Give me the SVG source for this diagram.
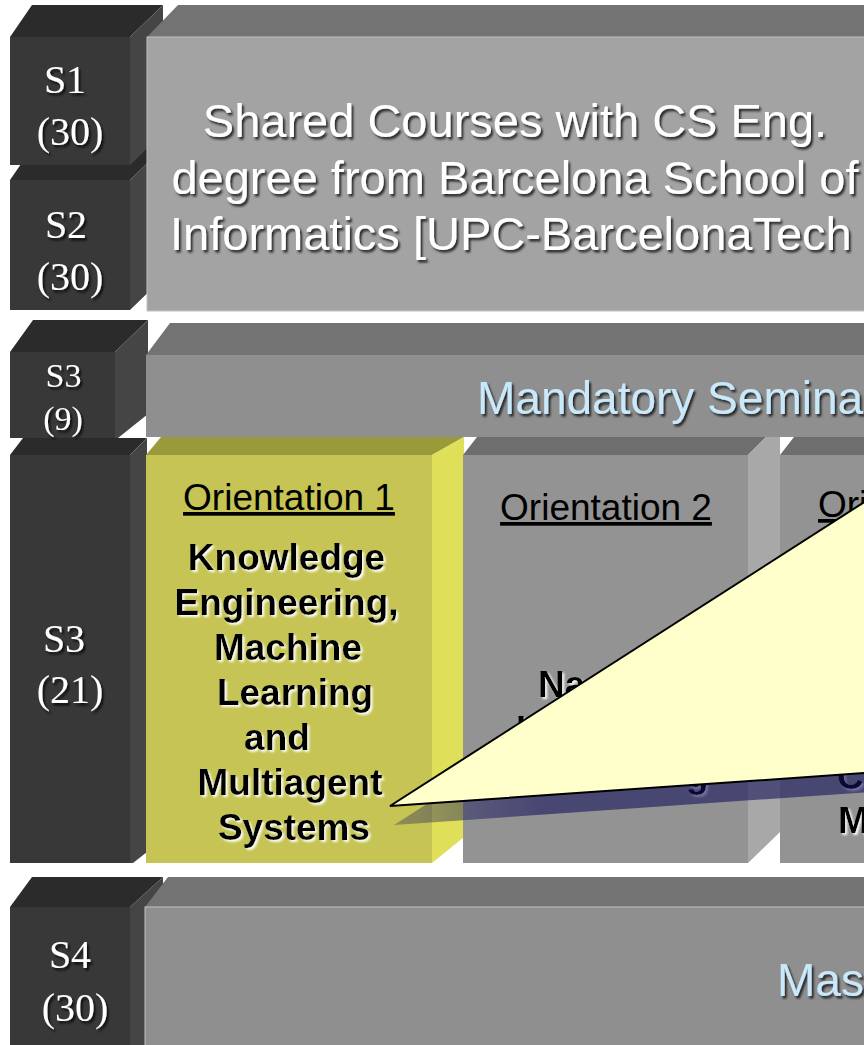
<svg xmlns="http://www.w3.org/2000/svg" width="864" height="1045" viewBox="0 0 864 1045">
<defs>
<filter id="sd" x="-10%" y="-20%" width="130%" height="150%"><feDropShadow dx="2" dy="2.5" stdDeviation="1" flood-color="#000" flood-opacity="0.75"/></filter>
<filter id="sw" x="-10%" y="-20%" width="130%" height="150%"><feDropShadow dx="2" dy="2" stdDeviation="0.8" flood-color="#fff" flood-opacity="0.95"/></filter>
<linearGradient id="shg" gradientUnits="userSpaceOnUse" x1="395" y1="0" x2="540" y2="0"><stop offset="0" stop-color="#10105a" stop-opacity="0.3"/><stop offset="1" stop-color="#10105a" stop-opacity="0.58"/></linearGradient>
</defs>
<style>
.cf{fill:#383838}
.ct{fill:#2b2b2b}
.cr{fill:#454545}
.lbl{font-family:"Liberation Serif","Times New Roman",serif;fill:#fff;font-size:40px;text-anchor:middle;filter:url(#sd)}
.big{font-family:"Liberation Sans",Arial,sans-serif;font-size:47px;fill:#fff;text-anchor:middle;filter:url(#sd)}
.blue{font-family:"Liberation Sans",Arial,sans-serif;font-size:46px;fill:#c9e9fb;filter:url(#sd)}
.ori{font-family:"Liberation Sans",Arial,sans-serif;font-size:37px;fill:#000;text-anchor:middle;text-decoration:underline}
.bold{font-family:"Liberation Sans",Arial,sans-serif;font-size:37px;font-weight:bold;fill:#000;filter:url(#sw)}
.top{fill:#737373}
.edge{stroke:#c2c2c2;stroke-width:1}
</style>
<rect width="864" height="1045" fill="#fff"/>

<g id="s2">
<polygon class="ct" points="10,180 32,148 163,148 130,180"/>
<polygon class="cr" points="130,180 163,148 163,278 130,310"/>
<rect class="cf" x="10" y="180" width="120" height="130"/>
<text class="lbl" x="66" y="238">S2</text>
<text class="lbl" x="70" y="290">(30)</text>
</g>
<g id="s1">
<polygon class="ct" points="10,37 32,5 163,5 130,37"/>
<polygon class="cr" points="130,37 163,5 163,133 130,165"/>
<rect class="cf" x="10" y="37" width="120" height="128"/>
<text class="lbl" x="65" y="93">S1</text>
<text class="lbl" x="70" y="145">(30)</text>
</g>
<g id="shared">
<polygon class="top" points="147,37 178,5 870,5 870,37"/>
<rect class="edge" x="147" y="37" width="723" height="274" fill="#a3a3a3"/>
<text class="big" x="515" y="137">Shared Courses with CS Eng.</text>
<text class="big" x="515" y="194">degree from Barcelona School of</text>
<text class="big" x="170" y="250" style="text-anchor:start">Informatics [UPC-BarcelonaTech</text>
</g>

<g id="s3-21">
<polygon class="ct" points="10,455 23,438 147,438 130,455"/>
<polygon class="cr" points="130,455 147,438 147,852 133,863 130,863"/>
<rect class="cf" x="10" y="455" width="120" height="408"/>
<text class="lbl" x="64" y="652">S3</text>
<text class="lbl" x="70" y="703">(21)</text>
</g>

<g id="orientation1">
<polygon points="146,455 161,437 464,437 432,455" fill="#9b9a3b"/>
<polygon points="432,455 464,437 464,837 432,863" fill="#dfdf5a"/>
<rect x="146" y="455" width="286" height="408" fill="#c5c454"/>
<text class="ori" x="289" y="510">Orientation 1</text>
<g class="bold" style="text-anchor:middle">
<text x="286.5" y="570">Knowledge</text>
<text x="286.5" y="615">Engineering,</text>
<text x="288" y="660">Machine</text>
<text x="295" y="705">Learning</text>
<text x="277" y="750">and</text>
<text x="290" y="795">Multiagent</text>
<text x="294" y="840">Systems</text>
</g>
</g>

<g id="orientation2">
<polygon points="463,455 477,437 766,437 748,455" fill="#6e6e6e"/>
<polygon points="748,455 766,437 780,437 780,832 748,863" fill="#a8a8a8"/>
<rect x="463" y="455" width="285" height="408" fill="#939393"/>
<text class="ori" x="606" y="520">Orientation 2</text>
<text class="bold" x="538" y="697">Na</text>
<text class="bold" x="516" y="742">L</text>
<text class="bold" x="686" y="787">g</text>
</g>

<g id="orientation3">
<polygon points="780,455 794,437 870,437 870,455" fill="#6e6e6e"/>
<rect x="780" y="455" width="90" height="408" fill="#939393"/>
<text class="ori" x="818" y="517" style="text-anchor:start">Ori</text>
<text class="bold" x="837" y="789">C</text>
<text class="bold" x="838" y="833">M</text>
</g>

<g id="s3-9">
<polygon class="ct" points="10,352 33,320 148,320 115,352"/>
<polygon class="cr" points="115,352 148,320 148,414 118,438 115,438"/>
<rect class="cf" x="10" y="352" width="105" height="86"/>
<text class="lbl" x="63.5" y="387" style="font-size:34px">S3</text>
<text class="lbl" x="63" y="430" style="font-size:34px">(9)</text>
</g>
<g id="seminars">
<polygon class="top" points="146,355 170,323 870,323 870,355"/>
<rect x="146" y="355" width="724" height="82" fill="#8f8f8f"/>
<text class="blue" x="477" y="414">Mandatory Semina</text>
</g>

<g id="s4">
<polygon class="ct" points="10,907 32,877 163,877 130,907"/>
<polygon class="cr" points="130,907 163,877 163,1045 130,1045"/>
<rect class="cf" x="10" y="907" width="120" height="140"/>
<text class="lbl" x="70" y="968">S4</text>
<text class="lbl" x="75" y="1021">(30)</text>
</g>
<g id="thesis">
<polygon class="top" points="145,907 168,877 870,877 870,907"/>
<rect class="edge" x="145" y="907" width="725" height="140" fill="#8f8f8f"/>
<text class="blue" x="777" y="996">Mas</text>
</g>

<g id="callout">
<polygon points="394,825 884,511 884,791" fill="url(#shg)"/>
<polygon points="390,806 880,492 880,772" fill="#ffffcc" stroke="#000" stroke-width="2"/>
</g>
<g id="connectors"/>
</svg>
